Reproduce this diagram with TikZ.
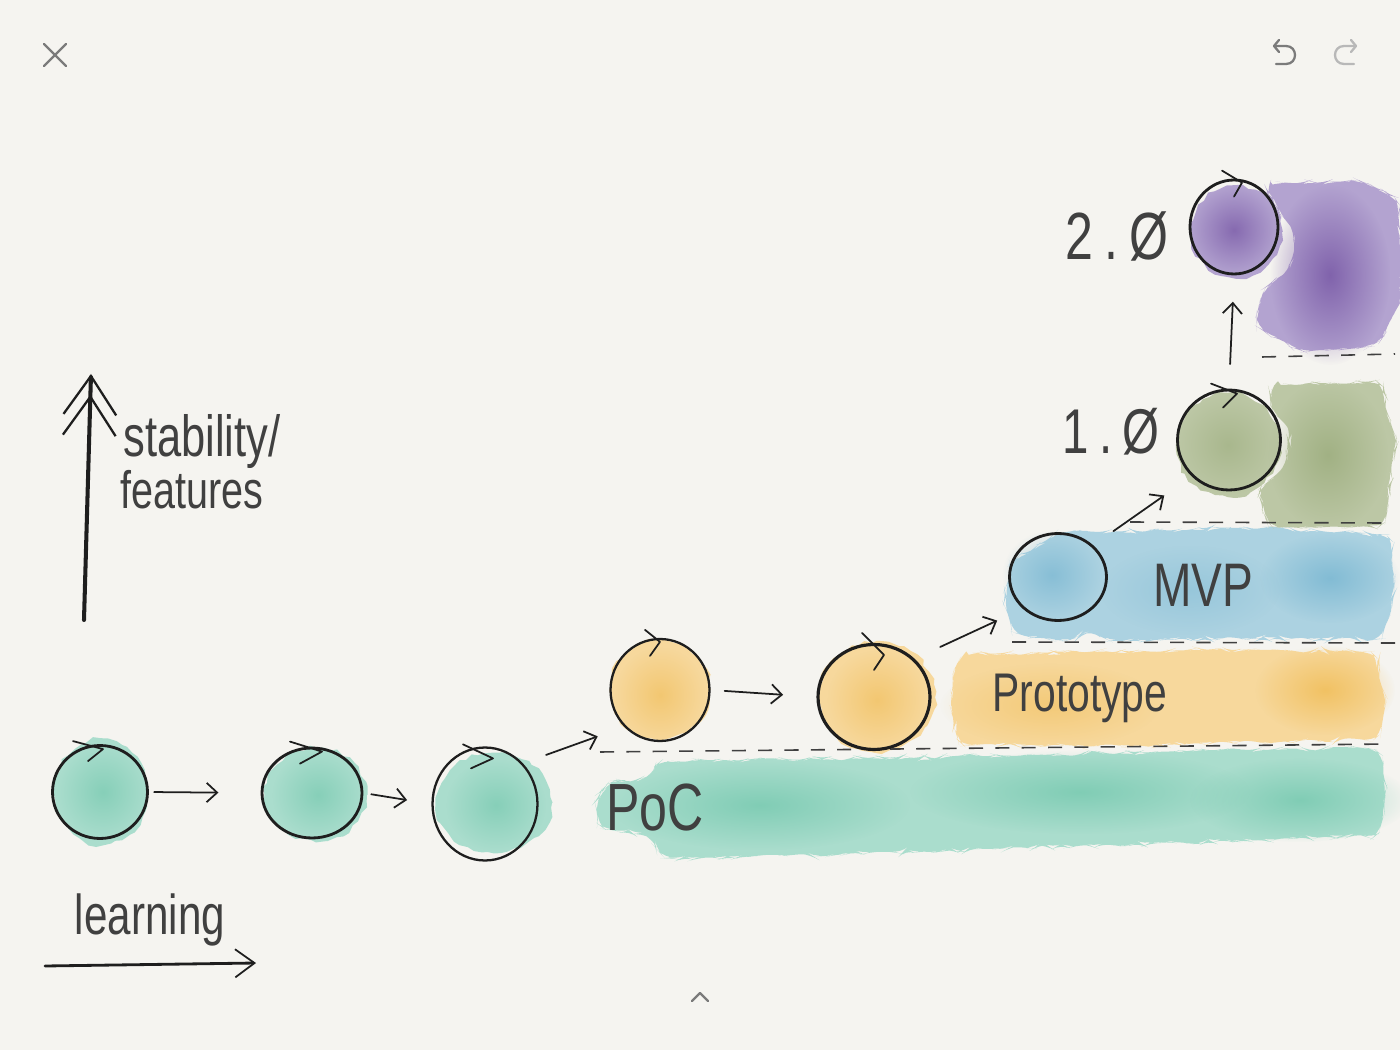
\documentclass[tikz,border=0pt]{standalone}
\usepackage{fontspec}
\setmainfont{Liberation Sans}
\newfontfamily\hand[FakeStretch=0.75]{Liberation Sans}
\usetikzlibrary{arrows.meta,shapes.geometric,decorations.pathmorphing,calc,fadings}
\tikzfading[name=softout, inner color=transparent!0, outer color=transparent!100]
\definecolor{bg}{HTML}{F5F4F0}
\definecolor{ink}{HTML}{1E1E1E}
\definecolor{uigray}{HTML}{7B7B7B}
\definecolor{uilight}{HTML}{B8B8B8}
\definecolor{tealA}{HTML}{AADDCD}
\definecolor{tealB}{HTML}{6FC6AB}
\definecolor{orA}{HTML}{F7D89C}
\definecolor{orB}{HTML}{F0BC55}
\definecolor{blA}{HTML}{ACD2E1}
\definecolor{blB}{HTML}{78B6D1}
\definecolor{grA}{HTML}{BCC7A5}
\definecolor{grB}{HTML}{96A876}
\definecolor{puA}{HTML}{B3A3D0}
\definecolor{puB}{HTML}{7B5CA8}
\tikzset{
  wc/.style={decorate,decoration={random steps,segment length=4pt,amplitude=1.3pt}},
  soft/.style={path fading=softout, fill opacity=#1},
  ring/.style={ellipse, draw=ink, line width=1.6pt, inner sep=0pt},
  hk/.style={draw=ink, line width=1pt, line cap=round, line join=round},
  arr/.style={draw=ink, line width=1pt, line cap=round, -{Straight Barb[length=6pt,width=11pt,line width=1pt]}},
  dline/.style={draw=ink!85, line width=0.9pt, dash pattern=on 8pt off 7pt},
  ui/.style={draw=uigray, line width=1.3pt, line cap=round, line join=round},
  lbl/.style={text=ink!85, inner sep=0pt}
}
\begin{document}
\pgfmathsetseed{7}
\begin{tikzpicture}[x=0.02cm,y=-0.02cm]
\fill[bg] (0,0) rectangle (1400,1050);
\useasboundingbox (0,0) rectangle (1400,1050);

% ---------- watercolour bands ----------
% PoC
\fill[tealA, wc, rounded corners=6pt] (657,762) -- (900,758) -- (1150,752) -- (1378,748) -- (1385,790) -- (1380,835) -- (1100,845) -- (800,855) -- (660,858) -- (652,835) -- (600,828) -- (595,800) -- (610,782) -- (650,778) -- cycle;
\fill[tealB, soft=0.7] (760,805) ellipse [x radius=150, y radius=45];
\fill[tealB, soft=0.7] (1080,792) ellipse [x radius=170, y radius=42];
\fill[tealB, soft=0.7] (1300,800) ellipse [x radius=110, y radius=42];
% Prototype
\fill[orA, wc, rounded corners=6pt] (958,655) -- (1200,650) -- (1375,652) -- (1385,700) -- (1380,738) -- (1150,745) -- (960,745) -- (950,705) -- cycle;
\fill[orB, soft=0.8] (1325,690) ellipse [x radius=70, y radius=45];
\fill[orB, soft=0.5] (1050,705) ellipse [x radius=110, y radius=42];
% MVP
\fill[blA, wc, rounded corners=6pt] (1105,532) -- (1250,528) -- (1390,535) -- (1395,595) -- (1380,640) -- (1250,638) -- (1105,640) -- (1090,630) -- (1070,640) -- (1015,635) -- (1003,600) -- (1012,560) -- (1060,532) -- cycle;
\fill[blB, soft=0.8] (1330,578) ellipse [x radius=70, y radius=45];
\fill[blB, soft=0.7] (1052,575) ellipse [x radius=50, y radius=45];
\fill[blB, soft=0.4] (1190,590) ellipse [x radius=90, y radius=45];
% 1.0 green
\fill[grA, wc, rounded corners=6pt] (1270,385) -- (1380,382) -- (1395,440) -- (1385,525) -- (1270,528) -- (1258,490) -- (1285,470) -- (1290,430) -- (1272,410) -- cycle;
\fill[grA, wc] (1228,445) ellipse [x radius=52, y radius=52];
\fill[grB, soft=0.7] (1328,455) ellipse [x radius=60, y radius=75];
\fill[grB, soft=0.5] (1228,445) ellipse [x radius=50, y radius=50];
% 2.0 purple
\fill[puA, wc, rounded corners=6pt] (1262,185) -- (1360,180) -- (1398,200) -- (1400,300) -- (1380,345) -- (1300,352) -- (1255,325) -- (1262,292) -- (1292,268) -- (1296,235) -- (1280,212) -- cycle;
\fill[puA, wc] (1236,232) ellipse [x radius=46, y radius=46];
\fill[puB, soft=0.9] (1330,275) ellipse [x radius=60, y radius=90];
\fill[puB, soft=0.8] (1234,230) ellipse [x radius=45, y radius=45];

% ---------- circle blobs ----------
\fill[tealA, wc] (101,792) ellipse [x radius=47, y radius=53];
\fill[tealB, soft=0.6] (103,792) ellipse [x radius=46, y radius=48];
\fill[tealA, wc] (316,795) ellipse [x radius=51, y radius=47];
\fill[tealB, soft=0.6] (318,795) ellipse [x radius=46, y radius=44];
\fill[tealA, wc] (494,803) ellipse [x radius=58, y radius=50];
\fill[tealB, soft=0.6] (496,805) ellipse [x radius=50, y radius=46];
\fill[orA, wc] (660,690) ellipse [x radius=50, y radius=50];
\fill[orB, soft=0.6] (660,695) ellipse [x radius=45, y radius=48];
\fill[orA, wc] (877,697) ellipse [x radius=58, y radius=56];
\fill[orB, soft=0.6] (877,700) ellipse [x radius=50, y radius=50];

% ---------- dashed level lines ----------
\draw[dline] (600,752) -- (1390,744);
\draw[dline] (1012,642) -- (1395,643);
\draw[dline] (1130,522) -- (1382,523);
\draw[dline] (1262,357) -- (1395,354);

% ---------- circles ----------
\node[ring, minimum width=1.90cm, minimum height=1.86cm] (c1) at (100,792) {};
\node[ring, minimum width=2.00cm, minimum height=1.80cm] (c2) at (312,793) {};
\node[ring, minimum width=2.10cm, minimum height=2.26cm, line width=1.3pt] (c3) at (485,804) {};
\node[ring, minimum width=1.98cm, minimum height=2.04cm, line width=1.3pt] (o1) at (660,690) {};
\node[ring, minimum width=2.24cm, minimum height=2.10cm, line width=1.8pt] (o2) at (874,697) {};
\node[ring, minimum width=1.94cm, minimum height=1.74cm] (bl) at (1058,577) {};
\node[ring, minimum width=2.06cm, minimum height=2.00cm] (gr) at (1229,440) {};
\node[ring, minimum width=1.76cm, minimum height=1.88cm] (pu) at (1234,227) {};

% start hooks
\draw[hk] (c1.north) ++(-27,-3) -- ++(30,8) -- ++(-15,12);
\draw[hk] (c2.north) ++(-22,-5) -- ++(32,10) -- ++(-22,12);
\draw[hk] (c3.north) ++(-22,-2) -- ++(30,14) -- ++(-22,10);
\draw[hk] (o1.north) ++(-15,-8) -- ++(15,12) -- ++(-10,14);
\draw[hk] (o2.north) ++(-12,-10) -- ++(22,22) -- ++(-10,15);
\draw[hk] (gr.north) ++(-18,-5) -- ++(26,10) -- ++(-14,14);
\draw[hk] (pu.north) ++(-12,-8) -- ++(20,12) -- ++(-8,14);

% ---------- connectors ----------
\draw[arr, shorten <=3pt, shorten >=24pt] (c1.east) -- (c2.west);
\draw[arr, shorten <=4.5pt, shorten >=14pt] (c2.east) -- (c3.west);
\draw[arr, shorten <=14pt, shorten >=16pt] (c3.north east) -- (o1.south west);
\draw[arr, shorten <=8pt, shorten >=19pt] (o1.east) -- (o2.west);
\draw[arr, shorten <=16pt, shorten >=16pt] (o2.north east) -- (bl.south west);
\draw[arr, shorten <=14pt, shorten >=19pt] (bl.north east) -- (gr.south west);
\draw[arr, shorten <=14pt, shorten >=15pt] (gr.north) -- (pu.south);

% ---------- axes ----------
\coordinate (ybot) at (84,620);
\coordinate (ytop) at (91,374);
\draw[draw=ink, line width=2.3pt, line cap=round,
  -{Straight Barb[length=22pt,width=30pt,line width=1.3pt,sep=-12pt] Straight Barb[length=22pt,width=30pt,line width=1.3pt]}] (ybot) -- (ytop);
\coordinate (xl) at (45,966);
\coordinate (xr) at (256,963);
\draw[draw=ink, line width=1.6pt, line cap=round,
  -{Straight Barb[length=11pt,width=16pt,line width=1pt]}] (xl) -- (xr);

% ---------- labels ----------
\node[lbl, font=\hand\fontsize{33}{36}\selectfont] (stab) at (202,442) {stability/};
\node[lbl, font=\hand\fontsize{30}{34}\selectfont] (feat) at (192,490) {features};
\node[lbl, font=\hand\fontsize{32}{36}\selectfont] (learn) at (150,920) {learning};
\node[lbl, font=\hand\fontsize{38}{40}\selectfont] (poc) at (655,808) {PoC};
\node[lbl, font=\hand\fontsize{31}{34}\selectfont] (proto) at (1080,698) {Prototype};
\node[lbl, font=\hand\fontsize{35}{38}\selectfont] (mvp) at (1203,585) {MVP};
\node[lbl, font=\hand\fontsize{38}{40}\selectfont] (v2) at (1117,236) {2\,.\,Ø};
\node[lbl, font=\hand\fontsize{36}{40}\selectfont] (v1) at (1111,432) {1\,.\,Ø};

% ---------- UI icons ----------
\draw[ui] (44,44) -- (66,66);
\draw[ui] (44,66) -- (66,44);
\draw[ui] (1276,64) -- (1286,64) .. controls (1298,64) and (1298,46) .. (1286,46) -- (1274,46);
\draw[ui] (1279,40) -- (1274,46) -- (1279,52);
\draw[ui, draw=uilight] (1354,64) -- (1344,64) .. controls (1332,64) and (1332,46) .. (1344,46) -- (1356,46);
\draw[ui, draw=uilight] (1351,40) -- (1356,46) -- (1351,52);
\draw[ui] (692,1001) -- (700,993) -- (708,1001);
\end{tikzpicture}
\end{document}
